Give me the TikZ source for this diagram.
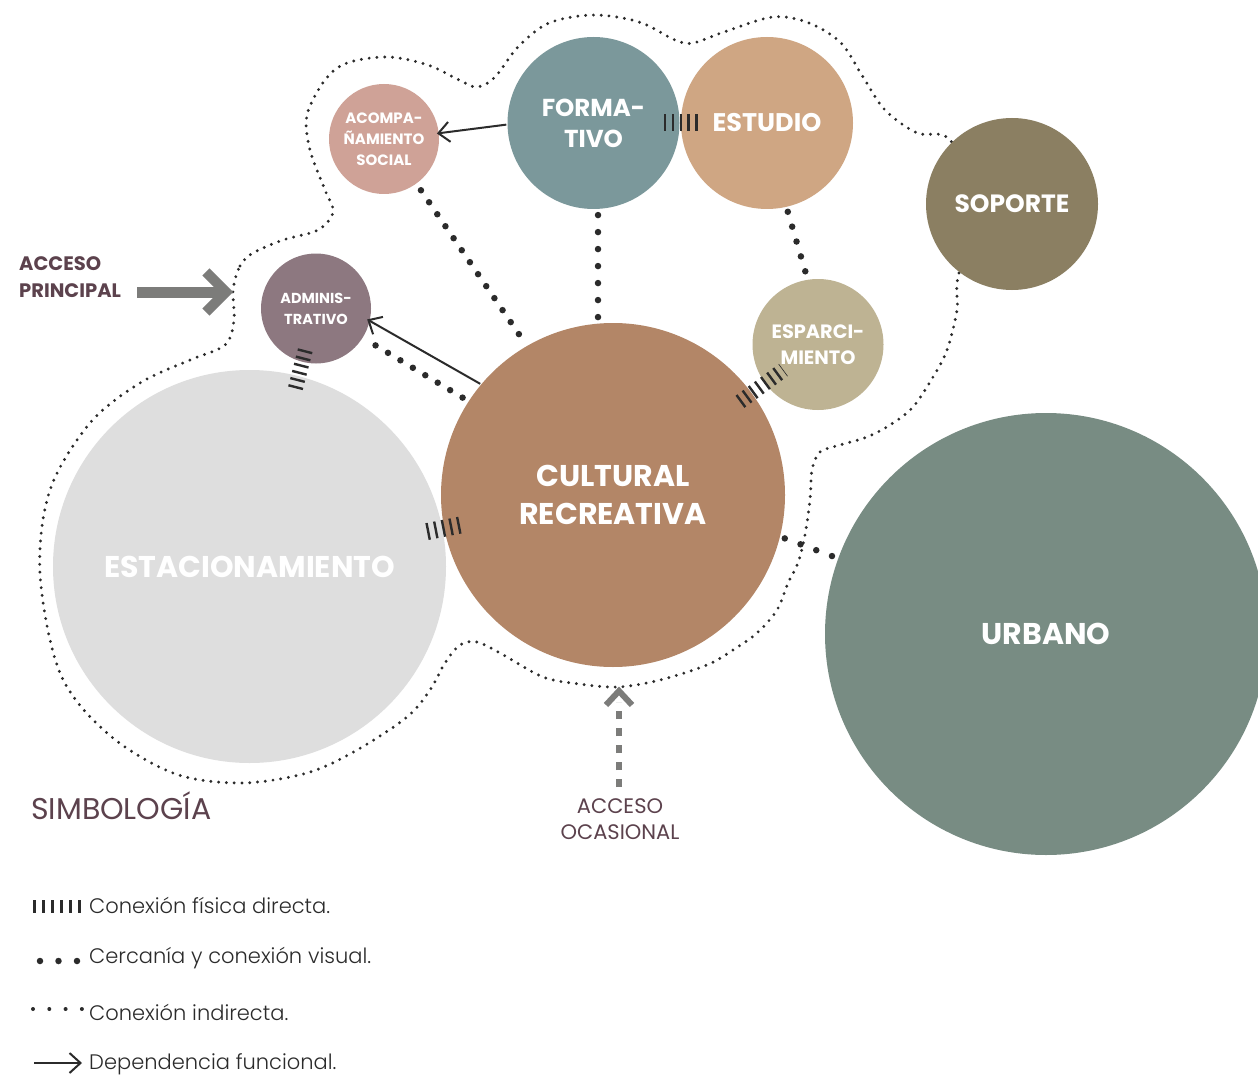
\documentclass[tikz,border=0pt]{standalone}
\usepackage{fontspec}
\setmainfont{Poppins}
\newfontfamily\labfont{Poppins Bold}
\newfontfamily\semifont{Poppins SemiBold}
\newfontfamily\lightfont{Poppins Light}
\usetikzlibrary{arrows.meta,calc}
\definecolor{cAcomp}{HTML}{CFA297}
\definecolor{cForm}{HTML}{7B989B}
\definecolor{cEst}{HTML}{CFA683}
\definecolor{cSop}{HTML}{8B7F62}
\definecolor{cAdm}{HTML}{8D7880}
\definecolor{cEsp}{HTML}{BEB393}
\definecolor{cCult}{HTML}{B38667}
\definecolor{cPark}{HTML}{DEDEDE}
\definecolor{cUrb}{HTML}{788C83}
\definecolor{plum}{HTML}{5C424D}
\definecolor{ink}{HTML}{2B2B2B}
\definecolor{accgray}{HTML}{7C7C7A}
\begin{document}
\begin{tikzpicture}[x=1pt,y=-1pt,
  zone/.style={circle, inner sep=0pt, draw=none, text=white, align=center},
  hatch/.style={draw=ink, line width=#1, dash pattern=on 2.4pt off 5.4pt},
  bigdots/.style={draw=ink, line width=6.5pt, line cap=round, dash pattern=on 0pt off 14.5pt},
  smalldots/.style={draw=ink, line width=3.2pt, line cap=round, dash pattern=on 0pt off 7.8pt},
  dep/.style={draw=ink, line width=2pt, -{Straight Barb[length=11pt,width=20pt]}},
  legtext/.style={anchor=west, text=ink, inner sep=0pt, font=\lightfont\fontsize{21}{24}\selectfont},
  acctext/.style={text=plum, inner sep=0pt},
]
\useasboundingbox (0,0) rectangle (1258,1078);
\clip (0,0) rectangle (1258,1078);
\fill[white] (0,0) rectangle (1258,1078);

% enclosing boundary
\draw[smalldots] plot[smooth cycle, tension=0.55] coordinates {
 (233,290) (240,266) (253,253) (283,240) (318,230) (333,212) (325,190) (310,150)
 (307,115) (325,80) (347,63) (388,57) (428,65) (459,80) (477,87) (495,77)
 (518,47) (549,23) (594,15) (639,22) (675,40) (693,43) (724,32) (773,17)
 (809,23) (841,43) (863,77) (885,110) (917,133) (950,140) (978,205)
 (958,277) (957,310) (947,350) (933,377) (913,407) (890,425) (867,437)
 (840,445) (820,452) (812,470) (810,500) (805,535) (798,563) (788,583)
 (777,610) (757,633) (733,650) (707,665) (660,680) (618,687) (580,684)
 (543,677) (500,653) (477,642) (460,645) (445,663) (430,690) (407,717)
 (357,750) (307,773) (240,783) (173,773) (107,733) (60,673) (40,573)
 (50,490) (90,423) (140,383) (190,360) (225,345) (234,320)};

% zones
\node[zone, fill=cAcomp, minimum size=110pt, font=\labfont\fontsize{15}{21}\selectfont] (acomp) at (384,139) {ACOMPA-\\ÑAMIENTO\\SOCIAL};
\node[zone, fill=cForm, minimum size=172pt, font=\labfont\fontsize{24.5}{31}\selectfont] (form) at (593.5,123) {FORMA-\\TIVO};
\node[zone, fill=cEst, minimum size=172pt, font=\labfont\fontsize{25.5}{31}\selectfont] (est) at (767,123) {ESTUDIO};
\node[zone, fill=cSop, minimum size=172pt, font=\labfont\fontsize{25}{31}\selectfont] (sop) at (1012,204) {SOPORTE};
\node[zone, fill=cAdm, minimum size=110pt, font=\labfont\fontsize{14.5}{21}\selectfont] (adm) at (316,308.5) {ADMINIS-\\TRATIVO};
\node[zone, fill=cEsp, minimum size=131pt, font=\labfont\fontsize{19.3}{26}\selectfont] (esp) at (818,344.5) {ESPARCI-\\MIENTO};
\node[zone, fill=cCult, minimum size=344pt, font=\labfont\fontsize{30}{38}\selectfont] (cult) at (613,495) {CULTURAL\\RECREATIVA};
\node[zone, fill=cPark, minimum size=393pt, font=\labfont\fontsize{30}{36}\selectfont] (park) at (249.5,566.5) {ESTACIONAMIENTO};
\node[zone, fill=cUrb, minimum size=442pt, font=\labfont\fontsize{30}{36}\selectfont] (urb) at (1046,634) {URBANO};

% physical direct connections
\draw[hatch=17pt, shorten <=70.5pt, shorten >=68pt] (form.center) -- (est.center);
\draw[hatch=17pt, shorten <=156pt, shorten >=180pt] (cult.center) -- (park.center);
\draw[hatch=15pt, shorten <=43pt, shorten >=180pt, dash pattern=on 2.4pt off 5pt] (adm.center) -- (park.center);
\draw[hatch=15pt, shorten <=157.5pt, shorten >=43pt, dash pattern=on 2.4pt off 5.2pt] (cult.center) -- (esp.center);

% proximity and visual connection
\draw[bigdots, shorten <=8pt, shorten >=3pt] (acomp.-54) -- (cult.120);
\draw[bigdots, dash pattern=on 0pt off 17pt, shorten <=6pt, shorten >=5pt] (form.-87) -- (cult.95);
\draw[bigdots, dash pattern=on 0pt off 15.5pt, shorten <=5pt, shorten >=6pt] (est.-77) -- (esp.99);
\draw[bigdots, dash pattern=on 0pt off 14.5pt, shorten <=7pt, shorten >=5pt] (cult.147) -- (adm.-32);
\draw[bigdots, dash pattern=on 0pt off 16.8pt, shorten <=5pt, shorten >=3pt] (cult.-14) -- (urb.160);

% functional dependency
\draw[dep, shorten <=1pt, shorten >=-2pt] (form.181) -- (acomp.6);
\draw[dep, shorten <=1pt, shorten >=-3pt] (cult.140) -- (adm.-13);

% accesses
\node[acctext, anchor=west, align=left, font=\labfont\fontsize{19.5}{27}\selectfont] (accp) at (19,277) {ACCESO\\PRINCIPAL};
\coordinate (accptip) at (233,292);
\draw[accgray, line width=11pt, -{Straight Barb[length=20pt,width=40pt,line width=10pt]}] (137,292) -- (accptip);

\node[acctext, align=center, font=\fontsize{21}{26}\selectfont] (acco) at (620,819) {ACCESO\\OCASIONAL};
\coordinate (accotip) at (619,691);
\draw[accgray, line width=6pt, dash pattern=on 8pt off 9pt] (619,787) -- (619,702);
\draw[accgray, line width=6pt] (606,705) -- (accotip) -- (632,705);

% legend
\node[acctext, anchor=west, font=\fontsize{30}{32}\selectfont] (simb) at (31,806) {SIMBOLOGÍA};
\node[legtext] (l1) at (89,905) {Conexión física directa.};
\node[legtext] (l2) at (89,958) {Cercanía y conexión visual.};
\node[legtext] (l3) at (89,1012) {Conexión indirecta.};
\node[legtext] (l4) at (89,1064) {Dependencia funcional.};
\coordinate (s1a) at (33,906); \coordinate (s1b) at (84,906);
\draw[hatch=13pt, dash pattern=on 2.6pt off 6.4pt] (s1a) -- (s1b);
\coordinate (s2a) at (40,961); \coordinate (s2b) at (77,961);
\draw[bigdots, dash pattern=on 0pt off 18.5pt] (s2a) -- (s2b);
\coordinate (s3a) at (33,1009); \coordinate (s3b) at (82,1009);
\draw[smalldots, line width=4pt, dash pattern=on 0pt off 16.3pt] (s3a) -- (s3b);
\coordinate (s4a) at (34,1063); \coordinate (s4b) at (82,1063);
\draw[dep] (s4a) -- (s4b);
\end{tikzpicture}
\end{document}
